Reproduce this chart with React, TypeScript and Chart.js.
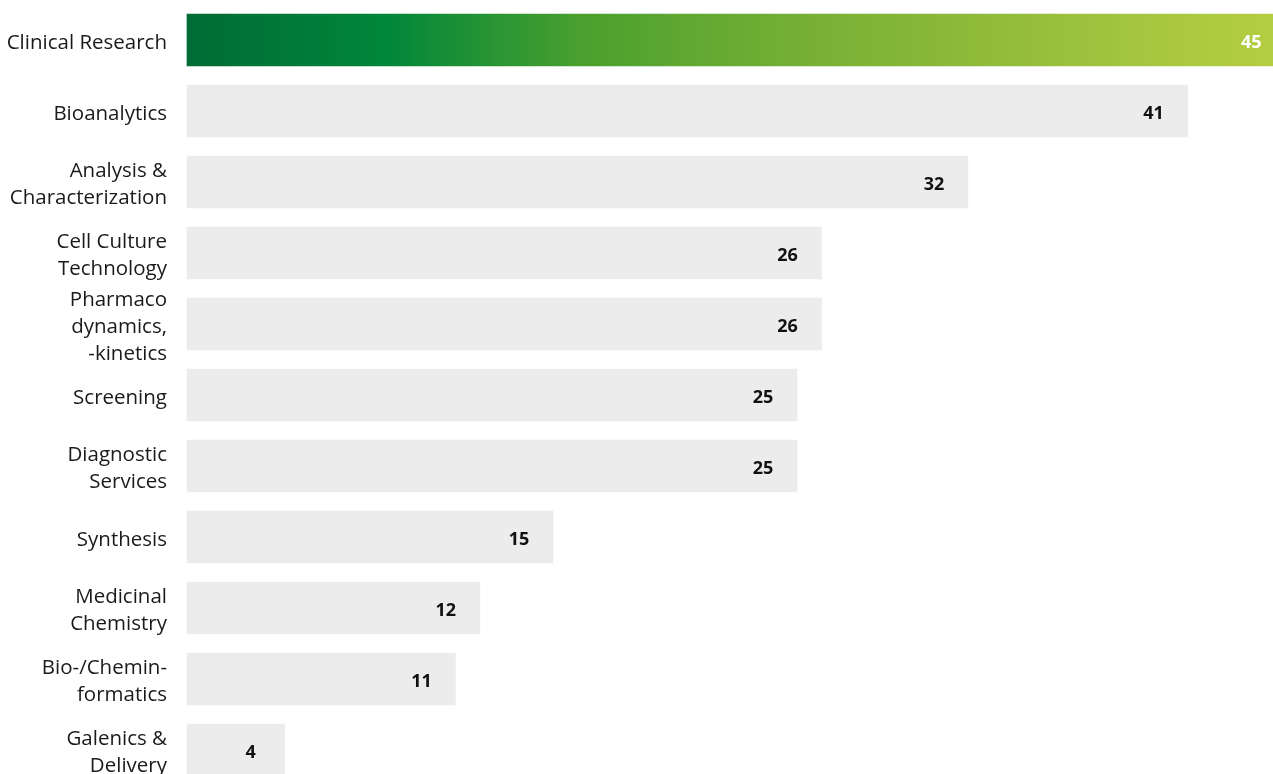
import React, { useEffect, useRef } from "react";
import { Chart, registerables } from "chart.js";

Chart.register(...registerables);

const categories: (string | string[])[] = [
  "Clinical Research",
  "Bioanalytics",
  ["Analysis &", "Characterization"],
  ["Cell Culture", "Technology"],
  ["Pharmaco", "dynamics,", "-kinetics"],
  "Screening",
  ["Diagnostic", "Services"],
  "Synthesis",
  ["Medicinal", "Chemistry"],
  ["Bio-/Chemin-", "formatics"],
  ["Galenics &", "Delivery"],
];

const values: number[] = [45, 41, 32, 26, 26, 25, 25, 15, 12, 11, 4];

const gradientStops: [number, string][] = [
  [0, "#006b35"],
  [0.18, "#00863a"],
  [0.36, "#4aa02e"],
  [0.54, "#72ae34"],
  [0.72, "#8fba3a"],
  [0.9, "#a9c840"],
  [1, "#b6ce42"],
];

const GRAY = "#ebeceb";
const FONT = "'Open Sans', 'Noto Sans', sans-serif";

const valueLabels = {
  id: "valueLabels",
  afterDatasetsDraw(chart: any) {
    const ctx = chart.ctx;
    const meta = chart.getDatasetMeta(0);
    ctx.save();
    ctx.font = `bold 18px ${FONT}`;
    ctx.textAlign = "center";
    ctx.textBaseline = "middle";
    meta.data.forEach((el: any, i: number) => {
      ctx.fillStyle = i === 0 ? "#ffffff" : "#111111";
      ctx.fillText(String(values[i]), el.x - 34, el.y + 2.5);
    });
    ctx.restore();
  },
};

export default function App() {
  const ref = useRef<HTMLCanvasElement>(null);
  useEffect(() => {
    if (!ref.current) return;
    const chart = new Chart(ref.current, {
      type: "bar",
      data: {
        labels: categories as any,
        datasets: [
          {
            data: values,
            barThickness: 52,
            clip: false as any,
            backgroundColor: (c: any) => {
              if (c.dataIndex !== 0) return GRAY;
              const ch = c.chart;
              const xs = ch.scales && ch.scales.x;
              if (!ch.chartArea || !xs) return gradientStops[0][1];
              const x0 = xs.getPixelForValue(0);
              const x1 = xs.getPixelForValue(values[0]);
              if (!isFinite(x0) || !isFinite(x1)) return gradientStops[0][1];
              const g = ch.ctx.createLinearGradient(x0, 0, x1, 0);
              gradientStops.forEach(([o, col]) => g.addColorStop(o, col));
              return g;
            },
          },
        ],
      },
      options: {
        indexAxis: "y",
        animation: false,
        responsive: false,
        maintainAspectRatio: false,
        layout: { padding: { top: 40, bottom: 24, left: 0, right: 0 } },
        plugins: { legend: { display: false }, tooltip: { enabled: false } },
        scales: {
          x: { display: false, min: 0, max: 44.5 },
          y: {
            offset: false,
            grid: { display: false, drawTicks: false, offset: false },
            border: { display: false },
            ticks: {
              autoSkip: false,
              padding: 20,
              labelOffset: 3,
              color: "#1a1a1a",
              font: { family: FONT, size: 20.5, lineHeight: "27px" as any },
            },
            afterFit: (s: any) => {
              s.width = 187;
              s.paddingTop = 0;
              s.paddingBottom = 0;
            },
          },
        },
      },
      plugins: [valueLabels],
    });
    return () => chart.destroy();
  }, []);
  return (
    <div style={{ position: "absolute", left: 0, top: 0, width: 1273, height: 774, background: "#fff" }}>
      <canvas ref={ref} width={1273} height={774} style={{ display: "block" }} />
    </div>
  );
}
